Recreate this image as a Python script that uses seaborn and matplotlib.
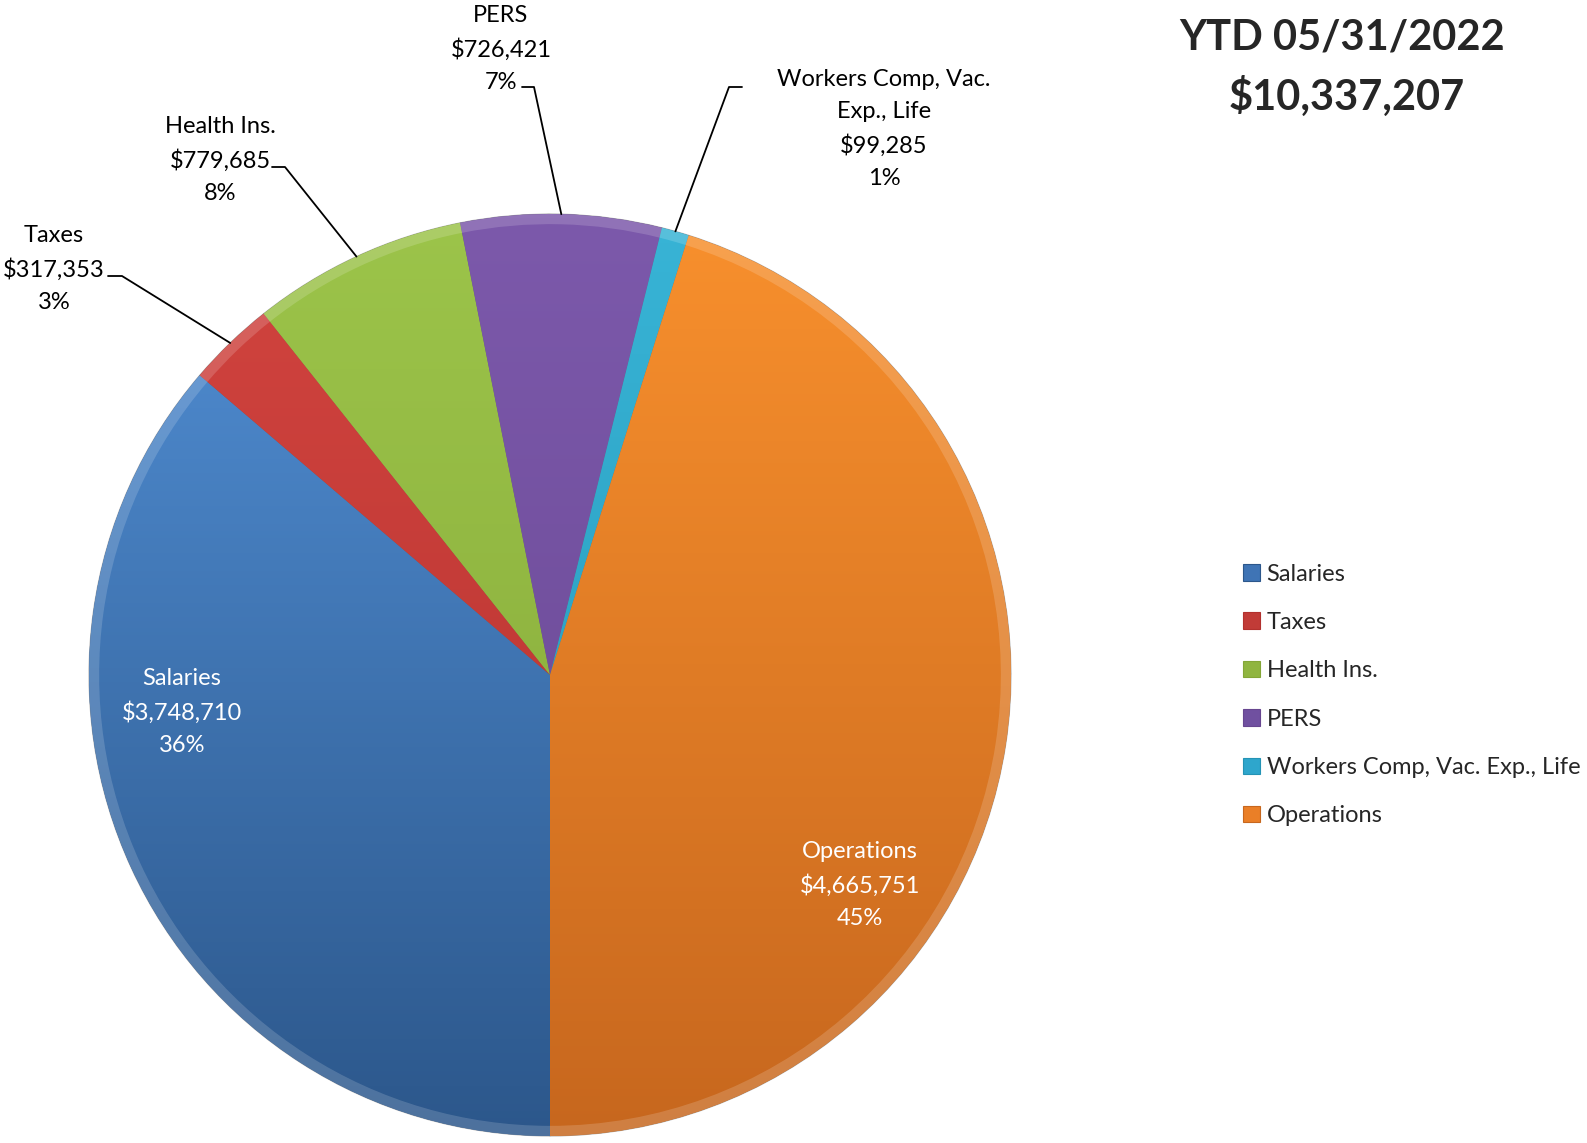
# Expense breakdown pie, YTD 05/31/2022

import numpy as np
import matplotlib.pyplot as plt
import seaborn as sns
from matplotlib.colors import LinearSegmentedColormap
from matplotlib.patches import Patch

sns.set_theme(style="white")
plt.rcParams['font.family'] = ['Lato', 'DejaVu Sans']

# data
categories = ['Salaries', 'Taxes', 'Health Ins.', 'PERS',
              'Workers Comp, Vac. Exp., Life', 'Operations']
amounts = [3748710, 317353, 779685, 726421, 99285, 4665751]
label_names = ['Salaries', 'Taxes', 'Health Ins.', 'PERS',
               'Workers Comp, Vac.\nExp., Life', 'Operations']
title_lines = ['YTD 05/31/2022', '$10,337,207']

# colours (light top / dark bottom of gradient)
light = ['#5290d6', '#d2443f', '#9cc44a', '#7c59ab', '#38b4d6', '#f8902d']
dark = ['#2c578b', '#b2312e', '#84a637', '#674690', '#2493b5', '#c7671e']
flat = ['#3f74b5', '#c13b37', '#90b540', '#7050a0', '#2ea6cc', '#ea7f27']

W, H = 1587, 1143
fig = plt.figure(figsize=(W / 100, H / 100), dpi=100)
ax = fig.add_axes([0, 0, 1, 1])

cx, cy, R = 550, H - 675, 461

wedges, _ = ax.pie(amounts, colors=flat, startangle=270, counterclock=False,
                   center=(cx, cy), radius=R, frame=True,
                   wedgeprops=dict(edgecolor='#44444466', linewidth=0.8))

# vertical gradient inside each wedge
grad = np.linspace(0, 1, 256).reshape(-1, 1)
for w, c1, c2 in zip(wedges, light, dark):
    cmap = LinearSegmentedColormap.from_list('g', [c2, c1])
    im = ax.imshow(grad, cmap=cmap, origin='lower', aspect='auto',
                   extent=[cx - R, cx + R, cy - R, cy + R], zorder=1.5)
    im.set_clip_path(w)

# thin bevel rim
ax.pie(amounts, colors=['#ffffff'] * 6, startangle=270, counterclock=False,
       center=(cx, cy), radius=R, frame=True,
       wedgeprops=dict(width=R * 0.022, alpha=0.16, edgecolor='none', zorder=2))
ax.set_xlim(0, W)
ax.set_ylim(0, H)
ax.set_aspect('equal')
ax.axis('off')

total = sum(amounts)
fs = 17
lsp = 1.65

# outside labels with leader lines: (text centre, elbow x, line start x)
outside = {
    1: ((54, 269), 122, 108),
    2: ((220, 160), 285, 272),
    3: ((501, 49), 534, 522),
    4: ((884, 129), 729, 742),
}
for i, w in enumerate(wedges):
    pct = amounts[i] / total * 100
    txt = f"{label_names[i]}\n${amounts[i]:,}\n{pct:.0f}%"
    if i in outside:
        (tx, ty), ex, sx = outside[i]
        ax.text(tx, H - ty, txt, ha='center', va='center', fontsize=fs,
                linespacing=lsp, color='black', zorder=5)
        mid = np.deg2rad((w.theta1 + w.theta2) / 2)
        px, py = cx + R * np.cos(mid), cy + R * np.sin(mid)
        if i == 3:
            ly = H - 87
        elif i == 4:
            ly = H - 87
        else:
            ly = H - (ty + 7)
        ax.plot([sx, ex, px], [ly, ly, py], color='black', lw=1.3, zorder=5)

ax.text(182, H - 712, f"Salaries\n${amounts[0]:,}\n36%", ha='center',
        va='center', fontsize=fs, linespacing=lsp, color='white', zorder=5)
ax.text(860, H - 885, f"Operations\n${amounts[5]:,}\n45%", ha='center',
        va='center', fontsize=fs, linespacing=lsp, color='white', zorder=5)

# title
fig.text(1342 / W, 1 - 38 / H, title_lines[0], ha='center', va='center',
         fontsize=30, fontweight='bold')
fig.text(1347 / W, 1 - 96 / H, title_lines[1], ha='center', va='center',
         fontsize=30, fontweight='bold')

handles = [Patch(facecolor=c, edgecolor=d, linewidth=0.8)
           for c, d in zip(flat, dark)]
fig.legend(handles, categories, loc='center left',
           bbox_to_anchor=(1243 / W, 1 - 695 / H), frameon=False,
           fontsize=fs, handlelength=0.7, handleheight=0.7,
           handletextpad=0.3, labelspacing=1.16, borderpad=0,
           borderaxespad=0)

plt.savefig('out.png', dpi=100)
print("Figure save: out.png")
